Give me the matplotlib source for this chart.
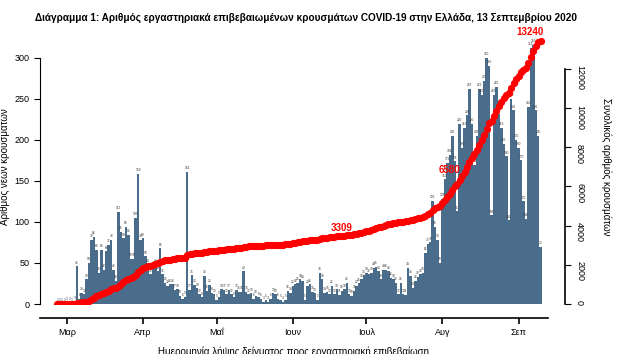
import numpy as np
import matplotlib
matplotlib.use('Agg')
import matplotlib.pyplot as plt

plt.rcParams['font.family'] = ['Liberation Sans Narrow', 'Liberation Sans', 'DejaVu Sans']

# daily new cases by sampling date, from 26 Feb 2020
feb = [1, 1, 1, 1]
mar = [2, 2, 1, 3, 46, 6, 14, 12, 30, 50, 78, 82, 66, 38, 66, 42, 64, 72, 78, 42,
       28, 112, 88, 80, 94, 84, 55, 55, 105, 159, 78]
apr = [80, 58, 48, 36, 44, 48, 40, 68, 36, 26, 22, 24, 24, 17, 18, 10, 6, 9, 161, 17,
       35, 23, 19, 12, 8, 34, 16, 23, 14, 12]
may = [5, 9, 18, 17, 12, 17, 12, 8, 17, 15, 15, 40, 15, 12, 13, 6, 10, 8, 6, 3,
       5, 3, 6, 13, 12, 6, 5, 3, 5, 16, 14]
jun = [22, 24, 26, 30, 28, 5, 22, 24, 15, 13, 5, 38, 30, 14, 15, 12, 22, 12, 18, 11,
       16, 18, 26, 12, 10, 16, 22, 25, 30, 35]
jul = [38, 36, 38, 44, 45, 40, 30, 42, 42, 40, 32, 30, 26, 12, 26, 12, 11, 44, 34, 20,
       28, 33, 36, 38, 62, 73, 75, 126, 94, 78, 50]
aug = [128, 152, 172, 182, 205, 174, 113, 220, 190, 215, 230, 262, 220, 170, 205, 262,
       255, 272, 300, 290, 108, 255, 265, 232, 215, 195, 180, 102, 250, 236, 200]
sep = [190, 175, 125, 104, 240, 312, 316, 236, 205, 70]

daily = np.array(feb + mar + apr + may + jun + jul + aug + sep)
dates = np.arange(np.datetime64('2020-02-26'), np.datetime64('2020-02-26') + len(daily))
cumul = np.cumsum(daily)

month_ticks = ['2020-03-01', '2020-04-01', '2020-05-01', '2020-06-01', '2020-07-01', '2020-08-01', '2020-09-01']
month_labels = ['Μαρ', 'Απρ', 'Μαΐ', 'Ιουν', 'Ιουλ', 'Αυγ', 'Σεπ']

# labelled points on the cumulative curve
notes = [('2020-06-21', '3309', (0, 2)), ('2020-08-06', '6580', (-4, 8)), ('2020-09-10', '13240', (-8, 3))]

title = 'Διάγραμμα 1: Αριθμός εργαστηριακά επιβεβαιωμένων κρουσμάτων COVID-19 στην Ελλάδα, 13 Σεπτεμβρίου 2020'

fig = plt.figure(figsize=(6.2, 3.54), dpi=100)
ax = fig.add_axes([40 / 620, 50 / 354, 508 / 620, 274 / 354])
ax2 = ax.twinx()

bar_col = '#4b6d8c'
ax.bar(dates, daily, width=1.0, color=bar_col, linewidth=0, align='center')
for d, v in zip(dates, daily):
    ax.text(d, v + 2, str(v), fontsize=2.3, color='#333333', ha='center', va='bottom')

ax2.plot(dates, cumul, 'o', color='#ff0000', markersize=5.2, markeredgewidth=0, zorder=3)
for day, txt, off in notes:
    i = int((np.datetime64(day) - dates[0]).astype(int))
    ax2.annotate(txt, xy=(dates[i], cumul[i]), xytext=off, textcoords='offset points',
                 ha='center', va='bottom', color='#ff0000', fontsize=7, fontweight='bold', zorder=2)

ax.set_xlim(np.datetime64('2020-02-26') - np.timedelta64(7, 'D'), np.datetime64('2020-09-13'))
ax.set_ylim(0, 334)
ax2.set_ylim(0, 13980)

ax.set_xticks([np.datetime64(t) for t in month_ticks])
ax.set_xticklabels(month_labels)
ax.tick_params(axis='x', labelsize=6.5, length=4, width=1.2, pad=3)
ax.set_yticks(range(0, 301, 50))
ax.tick_params(axis='y', labelsize=6.5, length=4, width=0.8)
ax2.set_yticks(range(0, 12001, 2000))
ax2.tick_params(axis='y', labelsize=6.5, length=4, width=0.8, labelrotation=270)
for lab in ax2.get_yticklabels():
    lab.set_va('center')

for a in (ax, ax2):
    a.spines['top'].set_visible(False)
ax.spines['right'].set_visible(False)
ax2.spines['left'].set_visible(False)
ax2.spines['bottom'].set_visible(False)
ax.spines['bottom'].set_position(('outward', 10))
ax.spines['bottom'].set_linewidth(1.2)
ax.spines['left'].set_bounds(0, 300)
ax2.spines['right'].set_position(('outward', 12))
ax2.spines['right'].set_bounds(0, 12000)
ax2.spines['right'].set_linewidth(1.2)

ax.set_ylabel('Αριθμός νέων κρουσμάτων', fontsize=7, labelpad=3)
ax2.set_ylabel('Συνολικός αριθμός κρουσμάτων', fontsize=7, rotation=270, labelpad=12, va='bottom')
ax.set_xlabel('Ημερομηνία λήψης δείγματος προς εργαστηριακή επιβεβαίωση', fontsize=7, labelpad=7)

fig.text(35 / 620, 1 - 18 / 354, title, fontsize=7.2, fontweight='bold', va='center', ha='left')

fig.savefig('out.png', dpi=100)
